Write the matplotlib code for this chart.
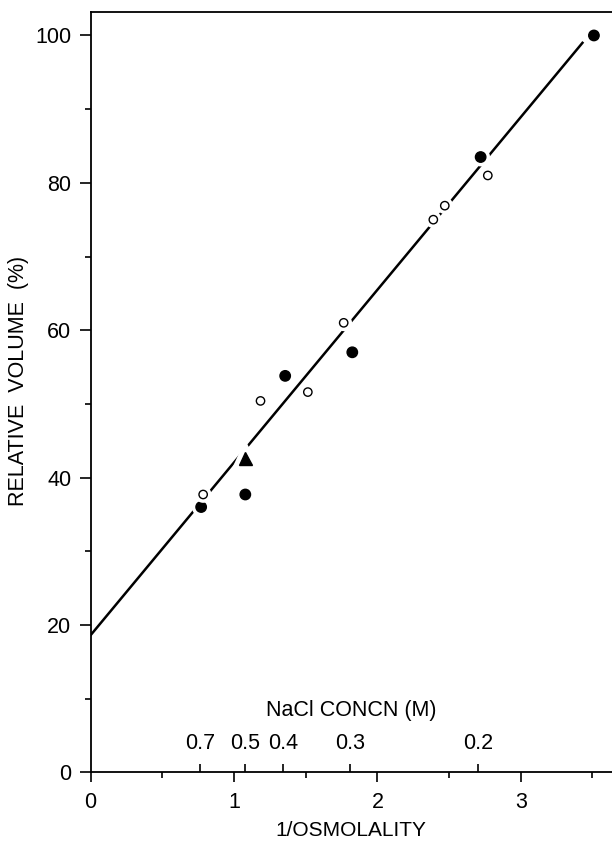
import matplotlib
matplotlib.use("Agg")
import matplotlib.pyplot as plt
import matplotlib.patheffects as pe

# data
filled_x = [0.771, 1.079, 1.357, 1.825, 2.72, 3.51]
filled_y = [36.0, 37.7, 53.8, 57.0, 83.5, 100.0]
open_x = [0.785, 1.185, 1.515, 1.765, 2.39, 2.47, 2.77]
open_y = [37.7, 50.4, 51.6, 61.0, 75.0, 76.9, 81.0]
tri_x = [1.079]
tri_y = [42.6]
fit_x = [0.0, 3.43]
fit_y = [18.6, 99.0]

nacl_pos = [0.766, 1.076, 1.34, 1.81, 2.705]
nacl_labels = ['0.7', '0.5', '0.4', '0.3', '0.2']

plt.rcParams['font.family'] = ['Liberation Sans', 'DejaVu Sans']

fig = plt.figure(figsize=(6.12, 8.43), dpi=100)
ax = fig.add_axes([0.148, 0.0839, 0.852, 0.902])

ax.plot(fit_x, fit_y, color='black', lw=1.8, zorder=2)

halo = [pe.withStroke(linewidth=6, foreground='white')]
ax.plot(filled_x, filled_y, 'o', ms=7.5, mfc='black', mec='black',
        zorder=3, path_effects=halo)
ax.plot(open_x, open_y, 'o', ms=6, mfc='white', mec='black', mew=1.0,
        zorder=3, path_effects=halo)
ax.plot(tri_x, tri_y, '^', ms=9, mfc='black', mec='black',
        zorder=3, path_effects=[pe.withStroke(linewidth=8, foreground='white')])

ax.set_xlim(0, 3.636)
ax.set_ylim(0, 103.2)

ax.set_xticks([0, 1, 2, 3])
ax.set_xticks([0.5, 1.5, 2.5, 3.5], minor=True)
ax.set_yticks([0, 20, 40, 60, 80, 100])
ax.set_yticks([10, 30, 50, 70, 90], minor=True)

ax.tick_params(axis='x', which='major', length=7, width=1.2, pad=7, labelsize=15.5)
ax.tick_params(axis='x', which='minor', length=4, width=1.2)
ax.tick_params(axis='y', which='major', length=8, width=1.2, pad=6, labelsize=15.5)
ax.tick_params(axis='y', which='minor', length=4.5, width=1.2)

ax.spines['right'].set_visible(False)
for s in ['left', 'bottom', 'top']:
    ax.spines[s].set_linewidth(1.3)

ax.set_xlabel('1/OSMOLALITY', fontsize=15, labelpad=6)
ax.set_ylabel('RELATIVE  VOLUME  (%)', fontsize=15.5)
ax.yaxis.set_label_coords(-0.118, 0.514)

# NaCl concentration scale drawn on the x axis, ticks pointing inward
sec = ax.secondary_xaxis('bottom')
sec.set_xticks(nacl_pos, nacl_labels)
sec.tick_params(direction='in', length=6, width=1.2, pad=-28, labelsize=15.5)
sec.spines['bottom'].set_visible(False)
ax.text(0.5, 0.0816, 'NaCl CONCN (M)', transform=ax.transAxes,
        ha='center', va='center', fontsize=15.5)

fig.savefig('out.png', dpi=100)
